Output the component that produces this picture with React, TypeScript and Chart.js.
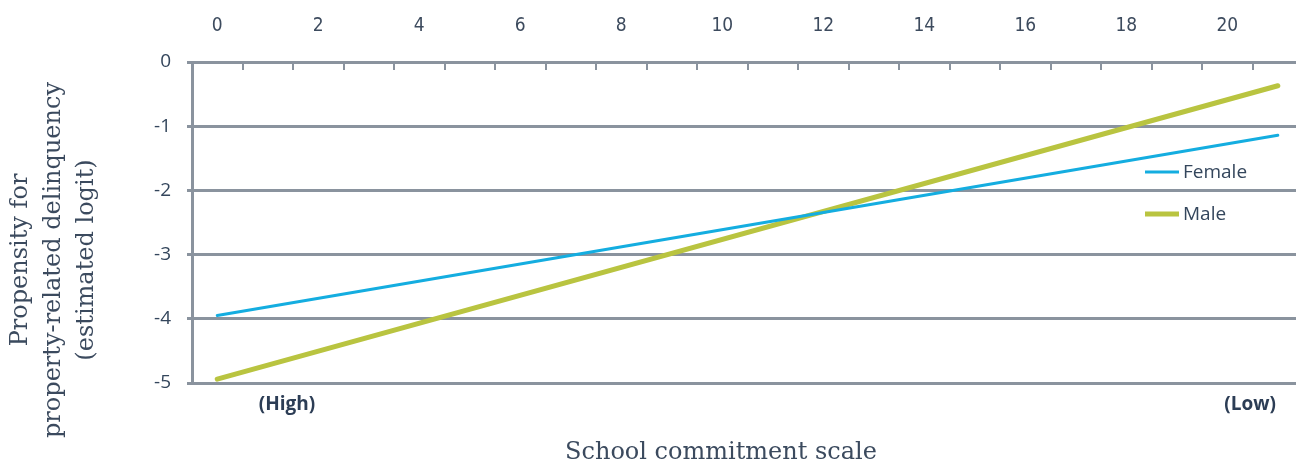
import React, { useEffect, useRef } from "react";
import { Chart, registerables } from "chart.js";

Chart.register(...registerables);

// ---- data ----
const xValues = [0, 21];
const femaleValues = [-3.95, -1.14];
const maleValues = [-4.94, -0.37];
const seriesLabels = ["Female", "Male"];
const seriesColors = ["#14ade0", "#b9c440"];
const seriesWidths = [3, 5];

const xTickValues = [0, 2, 4, 6, 8, 10, 12, 14, 16, 18, 20];
const yTickValues = [0, -1, -2, -3, -4, -5];
const endLabels = ["(High)", "(Low)"];
const endLabelPositions = [1.38, 20.45];

const yTitleLines = ["Propensity for", "property-related delinquency", "(estimated logit)"];
const xTitle = "School commitment scale";

const GRID = "#8a939e";
const TICK_TEXT = "#34465c";
const TITLE_TEXT = "#3b4a5e";
const X_MIN = -0.5;
const X_MAX = 21.36;

const decorPlugin = {
  id: "decor",
  afterDraw(chart: any) {
    const { ctx, chartArea } = chart;
    const xs = chart.scales.x;
    ctx.save();
    // inward minor tick marks on the top axis (category boundaries)
    ctx.strokeStyle = GRID;
    ctx.lineWidth = 2;
    for (let v = X_MIN + 1; v < X_MAX; v += 1) {
      const px = Math.round(xs.getPixelForValue(v));
      ctx.beginPath();
      ctx.moveTo(px, chartArea.top);
      ctx.lineTo(px, chartArea.top + 8);
      ctx.stroke();
    }
    // legend inside the plot
    const lx = chartArea.right - 151;
    const ly0 = chartArea.top + 110;
    chart.data.datasets.forEach((ds: any, i: number) => {
      const y = ly0 + i * 42;
      ctx.strokeStyle = ds.borderColor;
      ctx.lineWidth = ds.borderWidth;
      ctx.lineCap = "butt";
      ctx.beginPath();
      ctx.moveTo(lx, y);
      ctx.lineTo(lx + 34, y);
      ctx.stroke();
      ctx.fillStyle = TICK_TEXT;
      ctx.font = '19px "Open Sans", sans-serif';
      ctx.textAlign = "left";
      ctx.textBaseline = "middle";
      ctx.fillText(ds.label, lx + 38, y + 1);
    });
    // axis titles
    ctx.fillStyle = TITLE_TEXT;
    ctx.font = '24px "DejaVu Serif", serif';
    ctx.textAlign = "center";
    ctx.textBaseline = "alphabetic";
    const cy = chartArea.bottom - 123;
    yTitleLines.forEach((line, i) => {
      ctx.save();
      ctx.translate(27 + i * 33, cy);
      ctx.rotate(-Math.PI / 2);
      ctx.fillText(line, 0, 0);
      ctx.restore();
    });
    ctx.fillText(xTitle, (chartArea.left + chartArea.right) / 2 - 23, chart.height - 4);
    ctx.restore();
  },
};

export default function App() {
  const ref = useRef<HTMLCanvasElement | null>(null);

  useEffect(() => {
    document.body.style.margin = "0";
    const canvas = ref.current;
    if (!canvas) return;
    const chart = new Chart(canvas, {
      type: "line",
      data: {
        datasets: [
          {
            label: seriesLabels[0],
            data: xValues.map((x, i) => ({ x, y: femaleValues[i] })),
            borderColor: seriesColors[0],
            backgroundColor: seriesColors[0],
            borderWidth: seriesWidths[0],
            pointRadius: 0,
            borderCapStyle: "round",
            xAxisID: "x",
            yAxisID: "y",
          },
          {
            label: seriesLabels[1],
            data: xValues.map((x, i) => ({ x, y: maleValues[i] })),
            borderColor: seriesColors[1],
            backgroundColor: seriesColors[1],
            borderWidth: seriesWidths[1],
            pointRadius: 0,
            borderCapStyle: "round",
            xAxisID: "x",
            yAxisID: "y",
          },
        ],
      },
      options: {
        animation: false,
        responsive: false,
        maintainAspectRatio: false,
        layout: { padding: 0 },
        plugins: {
          legend: { display: false },
          tooltip: { enabled: false },
          title: { display: false },
        },
        scales: {
          x: {
            type: "linear",
            position: "top",
            min: X_MIN,
            max: X_MAX,
            afterBuildTicks: (scale: any) => {
              scale.ticks = xTickValues.map((v) => ({ value: v }));
            },
            afterFit: (scale: any) => {
              scale.height = 62;
            },
            grid: { display: false, drawTicks: false },
            border: { display: false },
            ticks: {
              autoSkip: false,
              maxRotation: 0,
              padding: 25,
              color: "#3d4b5e",
              font: { family: '"Liberation Sans Narrow", "DejaVu Sans Condensed", "Open Sans", sans-serif', size: 19 },
              callback: (v: any) => String(v),
            },
          },
          x2: {
            type: "linear",
            position: "bottom",
            min: X_MIN,
            max: X_MAX,
            afterBuildTicks: (scale: any) => {
              scale.ticks = endLabelPositions.map((v) => ({ value: v }));
            },
            afterFit: (scale: any) => {
              scale.height = 80;
            },
            grid: { display: false, drawTicks: false },
            border: { display: false },
            ticks: {
              autoSkip: false,
              maxRotation: 0,
              padding: 10,
              color: "#2c3d55",
              font: { family: '"Open Sans", sans-serif', size: 19, weight: "bold" },
              callback: (_v: any, i: number) => endLabels[i],
            },
          },
          y: {
            type: "linear",
            position: "left",
            min: -5,
            max: 0,
            afterBuildTicks: (scale: any) => {
              scale.ticks = yTickValues.map((v) => ({ value: v }));
            },
            afterFit: (scale: any) => {
              scale.width = 192;
            },
            grid: {
              color: GRID,
              lineWidth: 3,
              drawTicks: true,
              tickLength: 5,
            },
            border: { display: true, color: GRID, width: 3 },
            ticks: {
              padding: 16,
              color: TICK_TEXT,
              font: { family: '"Open Sans", sans-serif', size: 19 },
              callback: (v: any) => String(v),
            },
          },
        },
      },
      plugins: [decorPlugin],
    } as any);
    return () => chart.destroy();
  }, []);

  return (
    <div style={{ width: 1296, height: 463 }}>
      <canvas ref={ref} width={1296} height={463} style={{ display: "block" }} />
    </div>
  );
}
